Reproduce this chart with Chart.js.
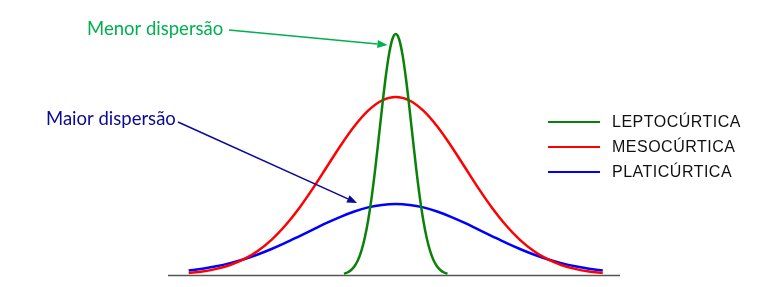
<!DOCTYPE html>
<html>
<head>
<meta charset="utf-8">
<script src="https://cdn.jsdelivr.net/npm/chart.js@4.4.1/dist/chart.umd.min.js"></script>
<style>
    html, body { margin: 0; padding: 0; background: #fff; }
    #wrap { width: 780px; height: 287px; }
</style>
</head>
<body>
<div id="wrap"><canvas id="myChart"></canvas></div>
<script>
// Valeurs (hauteur des courbes au-dessus de l'axe)
const xLarge = [-3.0, -2.8, -2.6, -2.4, -2.2, -2.0, -1.8, -1.6, -1.4, -1.2, -1.0, -0.8, -0.6, -0.4, -0.2, 0,
                0.2, 0.4, 0.6, 0.8, 1.0, 1.2, 1.4, 1.6, 1.8, 2.0, 2.2, 2.4, 2.6, 2.8, 3.0];
const xEtroit = [-0.75, -0.70, -0.65, -0.60, -0.55, -0.50, -0.45, -0.40, -0.35, -0.30, -0.25, -0.20, -0.15, -0.10, -0.05, 0,
                 0.05, 0.10, 0.15, 0.20, 0.25, 0.30, 0.35, 0.40, 0.45, 0.50, 0.55, 0.60, 0.65, 0.70, 0.75];

const lepto = [1.3, 2.5, 4.7, 8.5, 14.5, 23.6, 36.7, 54.5, 77.2, 104.4, 134.8, 166.2, 195.5, 219.6, 235.5, 241,
               235.5, 219.6, 195.5, 166.2, 134.8, 104.4, 77.2, 54.5, 36.7, 23.6, 14.5, 8.5, 4.7, 2.5, 1.3];
const meso = [2.0, 3.5, 6.1, 10.0, 15.8, 24.1, 35.2, 49.5, 66.8, 86.6, 108.0, 129.3, 148.7, 164.3, 174.5, 178,
              174.5, 164.3, 148.7, 129.3, 108.0, 86.6, 66.8, 49.5, 35.2, 24.1, 15.8, 10.0, 6.1, 3.5, 2.0];
const plati = [4.4, 6.2, 8.7, 11.9, 15.8, 20.5, 26.0, 32.1, 38.7, 45.4, 52.1, 58.2, 63.5, 67.6, 70.1, 71,
               70.1, 67.6, 63.5, 58.2, 52.1, 45.4, 38.7, 32.1, 26.0, 20.5, 15.8, 11.9, 8.7, 6.2, 4.4];

const labels = ["LEPTOCÚRTICA", "MESOCÚRTICA", "PLATICÚRTICA"];
const couleurs = ["#0A820A", "#FF0000", "#0000FF"];

function points(xs, ys) {
    return xs.map(function (x, i) { return { x: x, y: ys[i] }; });
}

// Flèche avec pointe pleine
function fleche(ctx, x1, y1, x2, y2, color) {
    const a = Math.atan2(y2 - y1, x2 - x1);
    const L = 10, W = 4;
    ctx.strokeStyle = color;
    ctx.fillStyle = color;
    ctx.lineWidth = 1.5;
    ctx.beginPath();
    ctx.moveTo(x1, y1);
    ctx.lineTo(x2 - L * Math.cos(a), y2 - L * Math.sin(a));
    ctx.stroke();
    ctx.beginPath();
    ctx.moveTo(x2, y2);
    ctx.lineTo(x2 - L * Math.cos(a) + W * Math.sin(a), y2 - L * Math.sin(a) - W * Math.cos(a));
    ctx.lineTo(x2 - L * Math.cos(a) - W * Math.sin(a), y2 - L * Math.sin(a) + W * Math.cos(a));
    ctx.closePath();
    ctx.fill();
}

const decor = {
    id: "decor",
    beforeDatasetsDraw: function (chart) {
        const ctx = chart.ctx;
        const area = chart.chartArea;
        const y0 = chart.scales.y.getPixelForValue(0);
        ctx.save();
        ctx.strokeStyle = "#555";
        ctx.lineWidth = 1.5;
        ctx.beginPath();
        ctx.moveTo(area.left, y0 + 0.5);
        ctx.lineTo(area.right, y0 + 0.5);
        ctx.stroke();
        ctx.restore();
    },
    afterDraw: function (chart) {
        const ctx = chart.ctx;
        const sx = chart.scales.x, sy = chart.scales.y;
        ctx.save();

        // Légende
        ctx.font = "16px 'Liberation Sans', Arial, sans-serif";
        ctx.letterSpacing = "0.5px";
        ctx.textBaseline = "middle";
        chart.data.datasets.forEach(function (ds, i) {
            const y = 122 + i * 25;
            ctx.strokeStyle = ds.borderColor;
            ctx.lineWidth = 2;
            ctx.beginPath();
            ctx.moveTo(548, y);
            ctx.lineTo(600, y);
            ctx.stroke();
            ctx.fillStyle = "#111";
            ctx.fillText(ds.label, 612, y + 1);
        });
        ctx.letterSpacing = "0px";

        // Annotations
        ctx.font = "18.5px Lato, 'Open Sans', sans-serif";
        ctx.textBaseline = "alphabetic";
        ctx.fillStyle = "#00B050";
        ctx.fillText("Menor dispersão", 87, 35);
        fleche(ctx, 229, 30, sx.getPixelForValue(-0.12), sy.getPixelForValue(230), "#00B050");

        ctx.fillStyle = "#0A0A96";
        ctx.fillText("Maior dispersão", 46, 125);
        fleche(ctx, 178, 122, sx.getPixelForValue(-0.56), sy.getPixelForValue(72), "#0A0A96");

        ctx.restore();
    }
};

const ctx = document.getElementById("myChart").getContext("2d");

window.kurtChart = new Chart(ctx, {
    type: "line",
    data: {
        datasets: [
            { label: labels[0], data: points(xEtroit, lepto), borderColor: couleurs[0] },
            { label: labels[1], data: points(xLarge, meso), borderColor: couleurs[1] },
            { label: labels[2], data: points(xLarge, plati), borderColor: couleurs[2] }
        ]
    },
    options: {
        responsive: true,
        maintainAspectRatio: false,
        animation: false,
        layout: {
            padding: { left: 168, right: 160, top: 15, bottom: 12 }
        },
        elements: {
            line: { borderWidth: 2.5, cubicInterpolationMode: "monotone", fill: false },
            point: { radius: 0 }
        },
        plugins: {
            legend: { display: false },
            tooltip: { enabled: false }
        },
        scales: {
            x: { type: "linear", min: -3.3, max: 3.25, display: false },
            y: { min: 0, max: 260, display: false }
        }
    },
    plugins: [decor]
});
</script>
</body>
</html>
